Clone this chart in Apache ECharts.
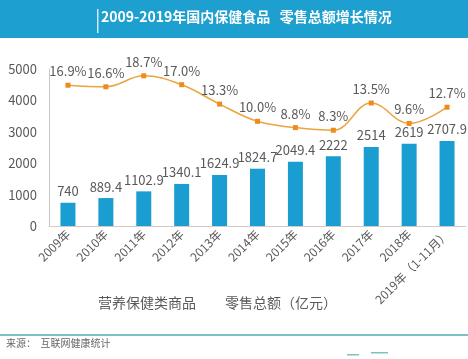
<!DOCTYPE html>
<html><head><meta charset="utf-8">
<script src="https://cdn.jsdelivr.net/npm/echarts@6/dist/echarts.min.js"></script>
<style>html,body{margin:0;padding:0;background:#fff}#c{width:468px;height:359px}</style>
</head><body><div id="c"></div>
<script>
const categories = ['2009年','2010年','2011年','2012年','2013年','2014年','2015年','2016年','2017年','2018年','2019年（1-11月）'];
const salesValues = [740, 889.4, 1102.9, 1340.1, 1624.9, 1824.7, 2049.4, 2222, 2514, 2619, 2707.9];
const growthValues = [16.9, 16.6, 18.7, 17.0, 13.3, 10.0, 8.8, 8.3, 13.5, 9.6, 12.7];
const yTicks = [0, 1000, 2000, 3000, 4000, 5000];

const FONT = '"Noto Sans CJK SC", "Noto Sans", sans-serif';
const chart = echarts.init(document.getElementById('c'));
chart.setOption({
  animation: false,
  textStyle: { fontFamily: FONT },
  graphic: [
    { type: 'rect', shape: { x: 0, y: 0, width: 468, height: 38 }, style: { fill: '#1d9fd0' } },
    { type: 'rect', shape: { x: 97, y: 9, width: 1.5, height: 24 }, style: { fill: '#cfe9f5' } },
    { type: 'text', left: 101, top: 10, style: { text: '2009-2019年国内保健食品   零售总额增长情况', fill: '#fff', font: 'bold 14px ' + FONT } },
    { type: 'text', x: 147, y: 303, style: { text: '营养保健类商品', fill: '#595959', font: '14px ' + FONT, align: 'center', verticalAlign: 'middle' } },
    { type: 'text', x: 281, y: 303, style: { text: '零售总额（亿元）', fill: '#595959', font: '14px ' + FONT, align: 'center', verticalAlign: 'middle' } },
    { type: 'rect', shape: { x: 0, y: 334, width: 468, height: 2 }, style: { fill: '#7cc2c4' } },
    { type: 'text', left: 6, top: 338, style: { text: '来源：  互联网健康统计', fill: '#666', font: '10px ' + FONT } },
    { type: 'rect', shape: { x: 347, y: 354, width: 12, height: 1.5 }, style: { fill: '#7cc2c4' } },
    { type: 'rect', shape: { x: 371, y: 352, width: 17, height: 1.5 }, style: { fill: '#7cc2c4' } }
  ],
  grid: { left: 49, right: 2, top: 69, bottom: 133, containLabel: false },
  xAxis: {
    type: 'category', data: categories,
    axisLine: { lineStyle: { color: '#d9c8c8' } },
    axisTick: { show: false },
    axisLabel: { rotate: 45, color: '#595959', fontSize: 12, margin: 6, interval: 0 }
  },
  yAxis: [
    { type: 'value', min: yTicks[0], max: yTicks[yTicks.length - 1], interval: 1000,
      axisLine: { show: true, lineStyle: { color: '#c8c8c8' } }, axisTick: { show: false },
      splitLine: { show: false },
      axisLabel: { color: '#595959', fontSize: 13, margin: 12, formatter: v => String(v) } },
    { type: 'value', min: -10, max: 20, show: false, splitLine: { show: false } }
  ],
  series: [
    { type: 'bar', data: salesValues, barWidth: 15, itemStyle: { color: '#1a9dd0' },
      label: { show: true, position: 'top', color: '#595959', fontSize: 13, distance: 5 } },
    { type: 'line', yAxisIndex: 1, data: growthValues, smooth: 0.4, symbol: 'rect', symbolSize: 5,
      lineStyle: { color: '#eaa53f', width: 1.5 }, itemStyle: { color: '#ef8b1c' },
      label: { show: true, position: 'top', color: '#595959', fontSize: 13, distance: 5,
        formatter: p => p.value.toFixed(1) + '%' } }
  ]
});
</script></body></html>
